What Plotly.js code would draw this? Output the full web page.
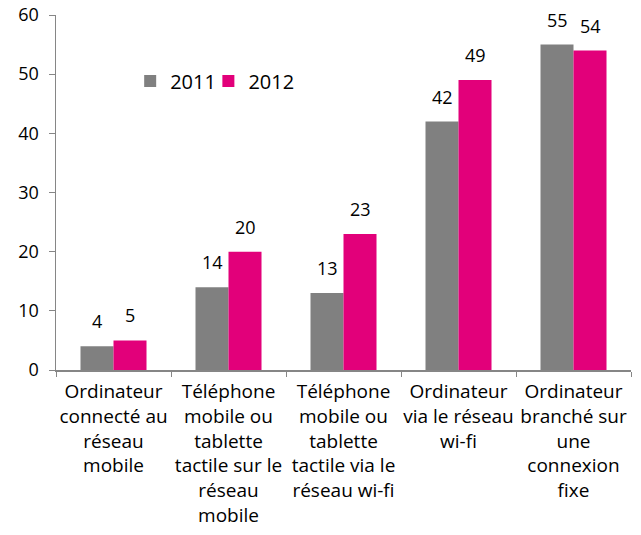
<!DOCTYPE html>
<html>
<head>
<meta charset="utf-8">
<script src="https://cdn.plot.ly/plotly-3.0.1.min.js"></script>
<style>
  body { margin: 0; background: #fff; }
  #chart { width: 641px; height: 535px; }
</style>
</head>
<body>
<div id="chart"></div>
<script>
const categories = [
    'Ordinateur<br>connecté au<br>réseau<br>mobile',
    'Téléphone<br>mobile ou<br>tablette<br>tactile sur le<br>réseau<br>mobile',
    'Téléphone<br>mobile ou<br>tablette<br>tactile via le<br>réseau wi-fi',
    'Ordinateur<br>via le réseau<br>wi-fi',
    'Ordinateur<br>branché sur<br>une<br>connexion<br>fixe'
];
const values2011 = [4, 14, 13, 42, 55];
const values2012 = [5, 20, 23, 49, 54];
const yTicks = [0, 10, 20, 30, 40, 50, 60];

const gray = '#808080';
const pink = '#E2007A';
const axisColor = '#868686';
const font = 'Open Sans, sans-serif';

const data = [
    { x: categories, y: values2011, type: 'bar', name: '2011', marker: { color: gray }, hoverinfo: 'none', legend: 'legend' },
    { x: categories, y: values2012, type: 'bar', name: '2012', marker: { color: pink }, hoverinfo: 'none', legend: 'legend2' }
];

// étiquettes de valeurs au-dessus des barres
const annotations = [];
categories.forEach((c, i) => {
    [[values2011[i], -16.5], [values2012[i], 16.5]].forEach(([v, dx]) => {
        annotations.push({
            x: c, y: v, text: String(v), showarrow: false,
            xshift: dx, yshift: 11, yanchor: 'bottom',
            font: { family: font, size: 18, color: '#000' }
        });
    });
});

const legendStyle = {
    orientation: 'h', y: 0.814, xanchor: 'left', yanchor: 'middle',
    font: { family: font, size: 20, color: '#000' }, bgcolor: 'rgba(0,0,0,0)'
};

const layout = {
    width: 641,
    height: 535,
    margin: { l: 56, r: 10, t: 15, b: 165 },
    paper_bgcolor: '#fff',
    plot_bgcolor: '#fff',
    barmode: 'group',
    bargap: 0.426,
    bargroupgap: 0,
    showlegend: true,
    legend: Object.assign({ x: 0.129 }, legendStyle),
    legend2: Object.assign({ x: 0.265 }, legendStyle),
    xaxis: {
        type: 'category',
        showline: true, linecolor: axisColor, linewidth: 1.5,
        ticks: 'outside', tickson: 'boundaries', ticklen: 5, tickcolor: axisColor,
        showgrid: false, zeroline: false,
        tickangle: 0,
        ticklabelstandoff: 4,
        tickfont: { family: font, size: 19, color: '#000' }
    },
    yaxis: {
        range: [0, 60], tickvals: yTicks,
        showline: true, linecolor: axisColor, linewidth: 1.5,
        ticks: 'outside', ticklen: 6, tickcolor: axisColor,
        showgrid: false, zeroline: false,
        ticklabelstandoff: 6,
        tickfont: { family: font, size: 18, color: '#000' }
    },
    annotations: annotations
};

Plotly.newPlot('chart', data, layout, { displayModeBar: false, staticPlot: true });
</script>
</body>
</html>
